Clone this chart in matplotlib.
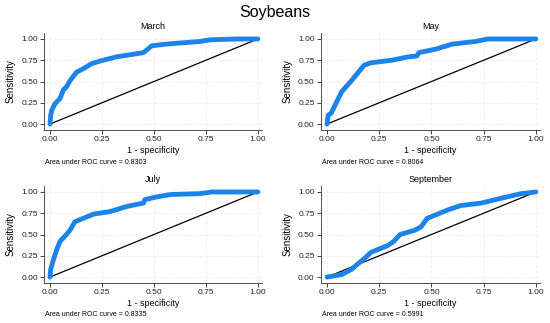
import matplotlib
matplotlib.use('Agg')
import matplotlib.pyplot as plt

plt.rcParams['font.family'] = ['Liberation Sans', 'DejaVu Sans']

# ROC curves (1 - specificity, sensitivity)
march_fpr = [0, 0.003, 0.008, 0.024, 0.048, 0.064, 0.08, 0.096, 0.128, 0.16, 0.2, 0.24, 0.32,
             0.4, 0.45, 0.49, 0.56, 0.72, 0.77, 0.9, 1.0]
march_tpr = [0, 0.1, 0.16, 0.24, 0.3, 0.4, 0.44, 0.51, 0.61, 0.65, 0.71, 0.74, 0.79,
             0.82, 0.84, 0.92, 0.94, 0.97, 0.99, 1.0, 1.0]

may_fpr = [0, 0.005, 0.02, 0.05, 0.07, 0.117, 0.177, 0.21, 0.31, 0.39, 0.43, 0.44, 0.52,
           0.6, 0.71, 0.77, 1.0]
may_tpr = [0, 0.1, 0.13, 0.28, 0.38, 0.51, 0.69, 0.72, 0.75, 0.79, 0.8, 0.84, 0.88,
           0.94, 0.97, 1.0, 1.0]

july_fpr = [0, 0.003, 0.016, 0.032, 0.048, 0.072, 0.096, 0.12, 0.16, 0.21, 0.29, 0.37, 0.45,
            0.456, 0.51, 0.58, 0.72, 0.78, 1.0]
july_tpr = [0, 0.09, 0.2, 0.32, 0.42, 0.48, 0.55, 0.65, 0.69, 0.74, 0.77, 0.83, 0.87,
            0.91, 0.94, 0.97, 0.98, 1.0, 1.0]

sept_fpr = [0, 0.07, 0.117, 0.15, 0.18, 0.21, 0.25, 0.29, 0.32, 0.35, 0.42, 0.45, 0.48,
            0.53, 0.58, 0.64, 0.74, 0.84, 0.93, 1.0]
sept_tpr = [0, 0.03, 0.09, 0.16, 0.22, 0.29, 0.33, 0.37, 0.42, 0.5, 0.55, 0.59, 0.69,
            0.74, 0.79, 0.84, 0.87, 0.93, 0.98, 1.0]

titulos = ['March', 'May', 'July', 'September']
areas = ['0.8303', '0.8064', '0.8335', '0.5991']
ticks = [0, 0.25, 0.5, 0.75, 1.0]
tick_labels = ['0.00', '0.25', '0.50', '0.75', '1.00']

W, H = 550, 323
# axes boxes in pixels: left, top, right, bottom
cajas = [(44, 33, 262, 130), (321, 33, 540, 130), (44, 186, 262, 283), (321, 186, 540, 283)]
curvas = [(march_fpr, march_tpr), (may_fpr, may_tpr), (july_fpr, july_tpr), (sept_fpr, sept_tpr)]

fig = plt.figure(figsize=(W / 100, H / 100), dpi=100)
fig.text(0.5, 1 - 12 / H, 'Soybeans', ha='center', va='center', fontsize=11.5)

for (l, t, r, b), (fpr, tpr), titulo, area in zip(cajas, curvas, titulos, areas):
    ax = fig.add_axes([l / W, 1 - b / H, (r - l) / W, (b - t) / H])
    ax.plot([0, 1], [0, 1], color='black', linewidth=0.9, zorder=2)
    ax.plot(fpr, tpr, color='#1c84e8', linewidth=3.5, solid_joinstyle='round',
            solid_capstyle='round', zorder=3)
    ax.set_xlim(-0.029, 1.02)
    ax.set_ylim(-0.07, 1.07)
    ax.set_xticks(ticks)
    ax.set_xticklabels(tick_labels)
    ax.set_yticks(ticks)
    ax.set_yticklabels(tick_labels)
    ax.tick_params(labelsize=6, length=3, width=0.6, pad=1.5, colors='#222222')
    ax.grid(True, color='#eeeeee', linestyle=(0, (4, 2)), linewidth=0.6)
    ax.set_axisbelow(True)
    for lado in ['top', 'right']:
        ax.spines[lado].set_visible(False)
    for lado in ['left', 'bottom']:
        ax.spines[lado].set_linewidth(0.6)
        ax.spines[lado].set_color('#333333')
    ax.set_title(titulo, fontsize=6.5, pad=3)
    ax.set_xlabel('1 - specificity', fontsize=6.5, labelpad=2)
    ax.set_ylabel('Sensitivity', fontsize=7, labelpad=4)
    fig.text((l + 1) / W, 1 - (b + 32) / H, 'Area under ROC curve = ' + area,
             fontsize=5, ha='left', va='center')

fig.savefig('out.png', dpi=100)
